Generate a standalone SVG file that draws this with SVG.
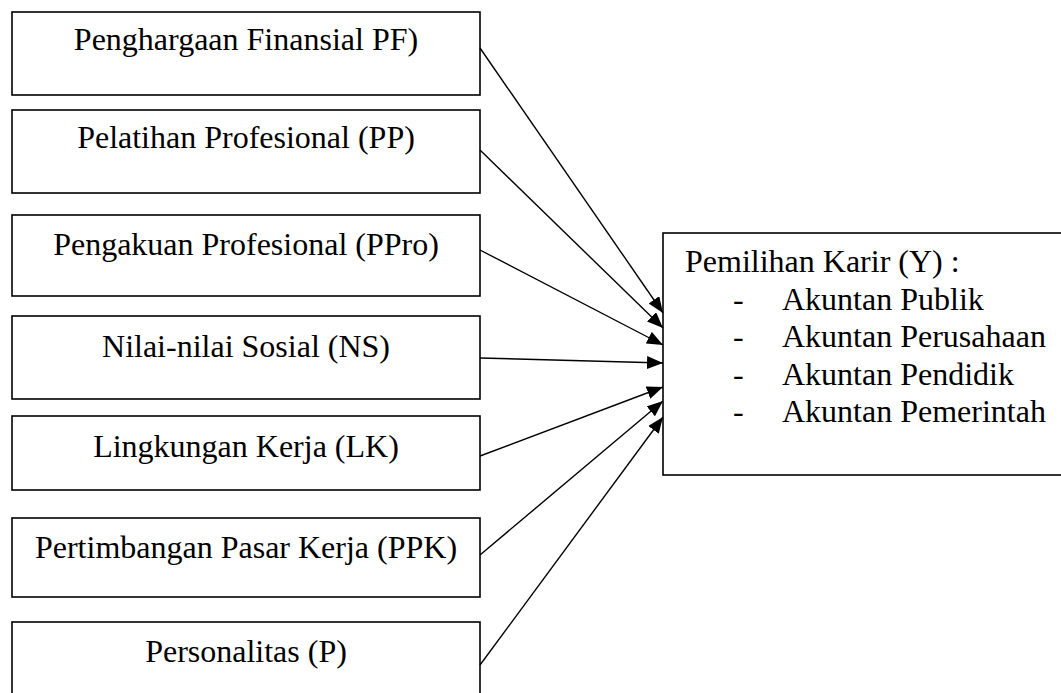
<svg xmlns="http://www.w3.org/2000/svg" width="1061" height="693" viewBox="0 0 1061 693">
<style>
.box{fill:#fff;stroke:#000;stroke-width:1.6}
.t{font-family:"Liberation Serif","Times New Roman",serif;font-size:32px;fill:#000}
.c{text-anchor:middle}
.ln{stroke:#000;stroke-width:1.4;fill:none;marker-end:url(#ah)}
</style>
<defs>
<marker id="ah" markerUnits="userSpaceOnUse" markerWidth="16" markerHeight="13" refX="16" refY="6.5" orient="auto">
<path d="M0,0 L16,6.5 L0,13 z" fill="#000"/>
</marker>
</defs>
<rect width="1061" height="693" fill="#fff"/>
<g id="pf"><rect class="box" x="12" y="12" width="468" height="83"/><text class="t c" x="246" y="50">Penghargaan Finansial PF)</text></g>
<g id="pp"><rect class="box" x="12" y="110" width="468" height="83"/><text class="t c" x="246" y="148">Pelatihan Profesional (PP)</text></g>
<g id="ppro"><rect class="box" x="12" y="215" width="468" height="81"/><text class="t c" x="246" y="255">Pengakuan Profesional (PPro)</text></g>
<g id="ns"><rect class="box" x="12" y="316" width="468" height="83"/><text class="t c" x="246" y="357">Nilai-nilai Sosial (NS)</text></g>
<g id="lk"><rect class="box" x="12" y="416" width="468" height="74"/><text class="t c" x="246" y="457">Lingkungan Kerja (LK)</text></g>
<g id="ppk"><rect class="box" x="12" y="518" width="468" height="79"/><text class="t c" x="246" y="558">Pertimbangan Pasar Kerja (PPK)</text></g>
<g id="p"><rect class="box" x="12" y="622" width="468" height="80"/><text class="t c" x="246" y="662">Personalitas (P)</text></g>
<g id="y"><rect class="box" x="663" y="233" width="420" height="242"/>
<text class="t" x="685" y="272">Pemilihan Karir (Y) :</text>
<text class="t" x="733" y="310">-</text><text class="t" x="782" y="310">Akuntan Publik</text>
<text class="t" x="733" y="347">-</text><text class="t" x="782" y="347">Akuntan Perusahaan</text>
<text class="t" x="733" y="385">-</text><text class="t" x="782" y="385">Akuntan Pendidik</text>
<text class="t" x="733" y="422">-</text><text class="t" x="782" y="422">Akuntan Pemerintah</text>
</g>
<g id="connectors">
<line class="ln" x1="480" y1="48" x2="663" y2="313"/>
<line class="ln" x1="480" y1="150" x2="663" y2="328"/>
<line class="ln" x1="480" y1="250" x2="663" y2="345"/>
<line class="ln" x1="480" y1="358" x2="663" y2="363"/>
<line class="ln" x1="480" y1="456" x2="663" y2="387"/>
<line class="ln" x1="480" y1="555" x2="663" y2="401"/>
<line class="ln" x1="480" y1="665" x2="663" y2="417"/>
</g>
</svg>
